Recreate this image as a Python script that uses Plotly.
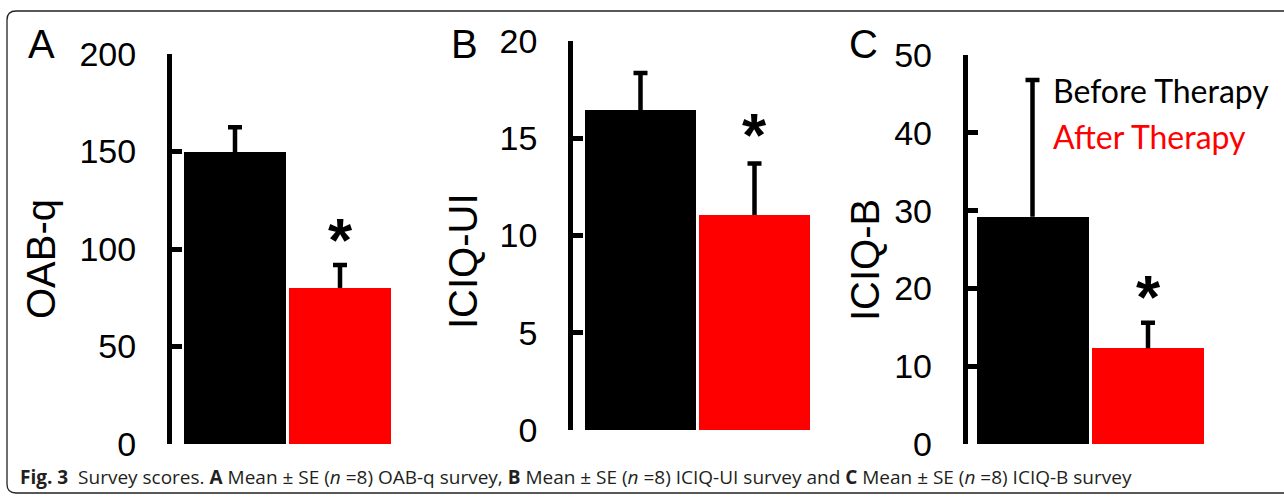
import plotly.graph_objects as go

W, H = 1284, 497

# ---- data ----
groups = ["Before Therapy", "After Therapy"]
panels = ["A", "B", "C"]
y_titles = ["OAB-q", "ICIQ-UI", "ICIQ-B"]
oabq_mean = [149.7, 80.0]
oabq_se = [12.8, 11.8]
iciqui_mean = [16.45, 11.05]
iciqui_se = [1.9, 2.65]
iciqb_mean = [29.2, 12.3]
iciqb_se = [17.6, 3.3]
y_max = [200, 20, 50]
y_dtick = [50, 5, 10]
star_y = [112, 15.9, 20.8]
caption = ("<b>Fig. 3</b>  Survey scores. <b>A</b> Mean \u00b1 SE (<i>n</i> =8) OAB-q survey, "
           "<b>B</b> Mean \u00b1 SE (<i>n</i> =8) ICIQ-UI survey and "
           "<b>C</b> Mean \u00b1 SE (<i>n</i> =8) ICIQ-B survey")

means = [oabq_mean, iciqui_mean, iciqb_mean]
ses = [oabq_se, iciqui_se, iciqb_se]
colors = ["#000000", "#ff0000"]

# ---- layout geometry (pixels) ----
xgeo = [(235, 105, -0.6), (640.5, 114, -0.59), (1032.5, 115.5, -0.56)]
ygeo = [(444, 54), (430, 41), (444, 55)]  # (pixel of 0, pixel of max)
letter_x = [41.5, 464.5, 863]
title_x = [41, 463, 865]
title_y = [259, 261, 260]
CAP_PX = 7


def px_x(p):
    return p / W


def px_y(p):
    return 1 - p / H


fig = go.Figure()
AX = "Liberation Sans, Arial, sans-serif"

for i in range(3):
    xa = "x" if i == 0 else f"x{i+1}"
    ya = "y" if i == 0 else f"y{i+1}"
    c, s, left = xgeo[i]
    half = CAP_PX / s
    for j in range(2):
        fig.add_trace(go.Bar(
            x=[j], y=[means[i][j]], width=[0.972],
            marker=dict(color=colors[j], line=dict(width=0)),
            xaxis=xa, yaxis=ya, showlegend=False, name=groups[j],
        ))
    # upper-only error bars (stem + top cap)
    for j in range(2):
        top = means[i][j] + ses[i][j]
        fig.add_trace(go.Scatter(
            x=[j, j, None, j - half, j + half],
            y=[means[i][j], top, None, top, top],
            mode="lines", line=dict(color="#000000", width=4.5),
            xaxis=xa, yaxis=ya, showlegend=False, hoverinfo="skip",
        ))
    x0 = c + left * s
    x1 = c + 1.5 * s
    p0, pm = ygeo[i]
    xkey = "xaxis" if i == 0 else f"xaxis{i+1}"
    ykey = "yaxis" if i == 0 else f"yaxis{i+1}"
    fig.layout[xkey] = dict(domain=[px_x(x0), px_x(x1)], range=[left, 1.5], visible=False,
                            anchor=ya, fixedrange=True)
    fig.layout[ykey] = dict(domain=[px_y(p0), px_y(pm)], range=[0, y_max[i]], anchor=xa,
                            dtick=y_dtick[i], tick0=0, showgrid=False, zeroline=False,
                            showline=True, linewidth=5, linecolor="#000000",
                            ticks="inside", ticklen=10, tickwidth=5, tickcolor="#000000",
                            tickfont=dict(family=AX, size=34, color="#000000"),
                            ticklabelstandoff=24, fixedrange=True, automargin=False)
    # significance star
    fig.add_annotation(x=1, y=star_y[i], xref=xa, yref=ya, text="<b>*</b>", showarrow=False,
                       font=dict(family=AX, size=62, color="#000000"),
                       yanchor="middle", yshift=-14)
    # panel letter
    fig.add_annotation(x=px_x(letter_x[i]), y=px_y(44.5), xref="paper", yref="paper",
                       text=panels[i], showarrow=False, xanchor="center", yanchor="middle",
                       font=dict(family=AX, size=40, color="#000000"))
    # y title
    fig.add_annotation(x=px_x(title_x[i]), y=px_y(title_y[i]), xref="paper", yref="paper",
                       text=y_titles[i], showarrow=False, textangle=-90,
                       xanchor="center", yanchor="middle",
                       font=dict(family=AX, size=40, color="#000000"))

# legend text
LEG = "Lato, Open Sans, sans-serif"
fig.add_annotation(x=px_x(1051), y=px_y(91), xref="paper", yref="paper", text=groups[0],
                   showarrow=False, xanchor="left", yanchor="middle",
                   font=dict(family=LEG, size=32, color="#000000"))
fig.add_annotation(x=px_x(1051), y=px_y(136), xref="paper", yref="paper", text=groups[1],
                   showarrow=False, xanchor="left", yanchor="middle",
                   font=dict(family=LEG, size=32, color="#ff0000"))

# caption
fig.add_annotation(x=px_x(18), y=px_y(477), xref="paper", yref="paper", text=caption,
                   showarrow=False, xanchor="left", yanchor="middle",
                   font=dict(family="Open Sans, sans-serif", size=19, color="#231f20"))

# rounded border
bx0, by0, bx1, by1, r = 7, 11, 1300, 493, 9
path = (f"M {px_x(bx0)},{px_y(by0 + r)} Q {px_x(bx0)},{px_y(by0)} {px_x(bx0 + r)},{px_y(by0)} "
        f"L {px_x(bx1)},{px_y(by0)} L {px_x(bx1)},{px_y(by1)} L {px_x(bx0 + r)},{px_y(by1)} "
        f"Q {px_x(bx0)},{px_y(by1)} {px_x(bx0)},{px_y(by1 - r)} Z")
fig.add_shape(type="path", path=path, xref="paper", yref="paper",
              line=dict(color="#222222", width=1.3), layer="below")

fig.update_layout(width=W, height=H, autosize=False,
                  margin=dict(l=0, r=0, t=0, b=0, pad=0, autoexpand=False),
                  paper_bgcolor="#ffffff", plot_bgcolor="rgba(0,0,0,0)", bargap=0,
                  showlegend=False)

fig.write_html("out.html", config={"displayModeBar": False},
               post_script="document.body.style.margin='0';document.body.style.overflow='hidden';")
